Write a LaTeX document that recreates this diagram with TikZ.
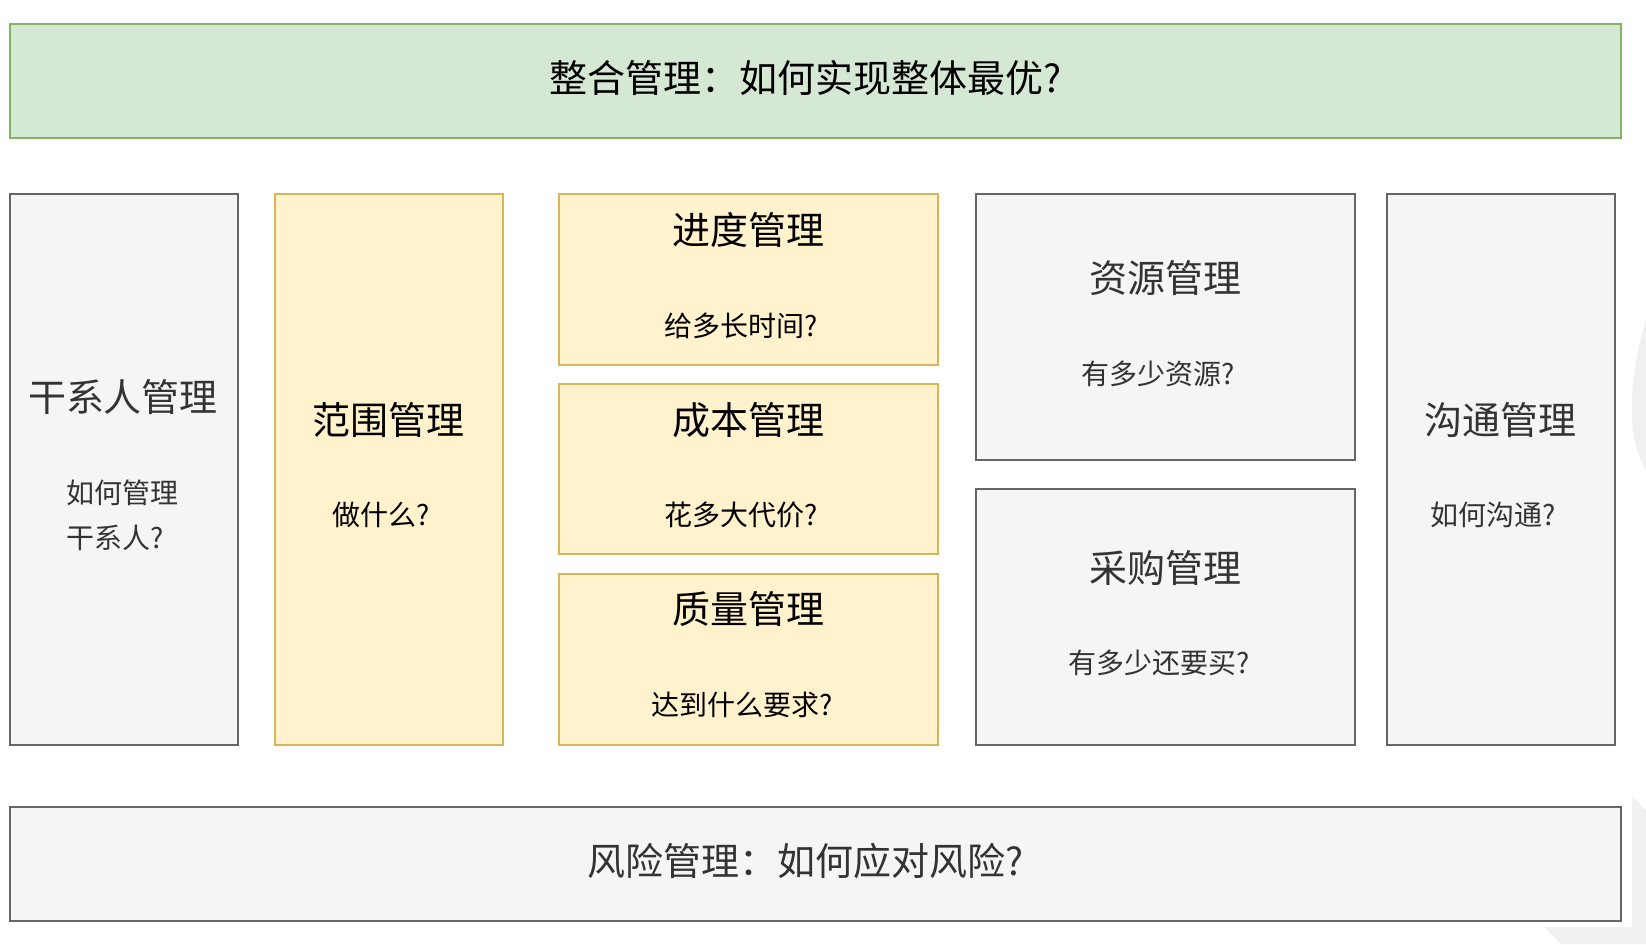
\documentclass[tikz,border=0pt]{standalone}
\usepackage{fontspec}
\setmainfont{Noto Sans CJK SC}
\usepackage[HTML]{xcolor}
\usepackage{tikz}
\usetikzlibrary{positioning}

\definecolor{greenfill}{HTML}{D5E8D4}
\definecolor{greenline}{HTML}{82B366}
\definecolor{yellowfill}{HTML}{FFF2CC}
\definecolor{yellowline}{HTML}{D6B656}
\definecolor{grayfill}{HTML}{F5F5F5}
\definecolor{grayline}{HTML}{666666}
\definecolor{graytext}{HTML}{333333}
\definecolor{markgray}{HTML}{F0F0F0}

\begin{document}
\begin{tikzpicture}[x=0.5pt, y=-0.5pt,
  area/.style={draw, line width=0.75pt, inner sep=0pt, anchor=north west},
  greenarea/.style={area, fill=greenfill, draw=greenline},
  yellowarea/.style={area, fill=yellowfill, draw=yellowline},
  grayarea/.style={area, fill=grayfill, draw=grayline},
  wide/.style={minimum width=805.5pt, minimum height=57pt},
  tall/.style={minimum width=114pt, minimum height=275.5pt},
  title/.style={font=\fontsize{19}{23}\selectfont, text height=1.2em, text depth=0em, inner sep=0pt},
  question/.style={font=\fontsize{14}{22.5}\selectfont, text height=1em, text depth=0em, inner sep=0pt}]

\useasboundingbox (0,0) rectangle (1646,944);

% Faint shapes at the right edge
\fill[markgray] (1646,320) .. controls (1628,380) and (1626,440) .. (1646,470) -- cycle;
\fill[markgray] (1632,796) -- (1646,810) -- (1646,944) -- (1561,944) -- (1544,927) -- (1632,927) -- cycle;

% Integration (top)
\node[greenarea, wide] (integration) at (9,23) {};
\node[title] (integrationtitle) at (806,80) {整合管理：如何实现整体最优?};

% Stakeholder
\node[grayarea, tall] (stakeholder) at (9,193) {};
\node[title, text=graytext] (stakeholdertitle) at (123,399) {干系人管理};
\node[question, text=graytext, anchor=west] (stakeholderq) at (66,493) {如何管理};
\node[question, text=graytext, anchor=west] (stakeholderqq) at (66,538) {干系人?};

% Scope
\node[yellowarea, tall] (scope) at (274,193) {};
\node[title] (scopetitle) at (388,422) {范围管理};
\node[question] (scopeq) at (381,515) {做什么?};

% Schedule, cost, quality
\node[yellowarea, minimum width=189.5pt, minimum height=85.5pt] (schedule) at (558,193) {};
\node[title] (scheduletitle) at (748,232) {进度管理};
\node[question] (scheduleq) at (741,326) {给多长时间?};

\node[yellowarea, minimum width=189.5pt, minimum height=85pt] (cost) at (558,383) {};
\node[title] (costtitle) at (748,422) {成本管理};
\node[question] (costq) at (741,515) {花多大代价?};

\node[yellowarea, minimum width=189.5pt, minimum height=85.5pt] (quality) at (558,573) {};
\node[title] (qualitytitle) at (748,611) {质量管理};
\node[question] (qualityq) at (742,705) {达到什么要求?};

% Resource and procurement
\node[grayarea, minimum width=189.5pt, minimum height=133pt] (resource) at (975,193) {};
\node[title, text=graytext] (resourcetitle) at (1165,280) {资源管理};
\node[question, text=graytext] (resourceq) at (1158,374) {有多少资源?};

\node[grayarea, minimum width=189.5pt, minimum height=128pt] (procurement) at (975,488) {};
\node[title, text=graytext] (procurementtitle) at (1165,570) {采购管理};
\node[question, text=graytext] (procurementq) at (1159,663) {有多少还要买?};

% Communication
\node[grayarea, tall] (communication) at (1386,193) {};
\node[title, text=graytext] (communicationtitle) at (1500,422) {沟通管理};
\node[question, text=graytext] (communicationq) at (1493,515) {如何沟通?};

% Risk (bottom)
\node[grayarea, wide] (risk) at (9,806) {};
\node[title, text=graytext] (risktitle) at (806,863) {风险管理：如何应对风险?};

\end{tikzpicture}
\end{document}
